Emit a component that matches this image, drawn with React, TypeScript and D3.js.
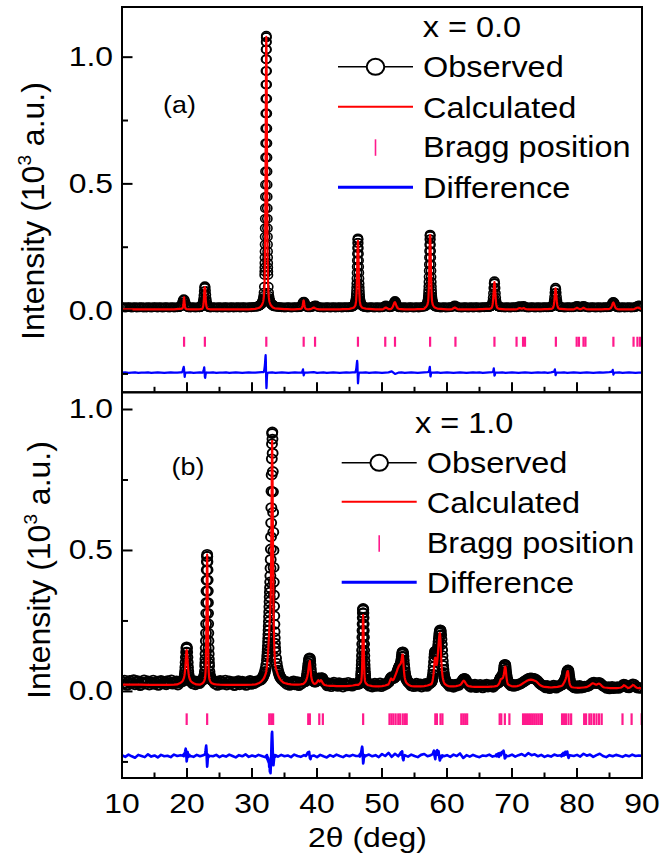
import React from "react";
import * as d3 from "d3";

// Segment = [start 2θ, step, intensities (10^3 a.u.)]
type Seg = [number, number, number[]];

const xMajorTicks = [10, 20, 30, 40, 50, 60, 70, 80, 90];
const xMinorTicks = [15, 25, 35, 45, 55, 65, 75, 85];
const yMajorTicks = [0, 0.5, 1.0];
const yMinorTicks = [-0.25, 0.25, 0.75];
const legendLabels = ["Observed", "Calculated", "Bragg position", "Difference"];
const panelTitles = ["x = 0.0", "x = 1.0"];
const panelTags = ["(a)", "(b)"];

// ---------------- Panel (a): x = 0.0 ----------------
const obsA: Seg[] = [
  [10, 0.25, [0.013,0.014,0.012,0.013,0.014,0.013,0.012,0.013,0.014,0.012,0.013,0.013,0.014,0.012,0.013,0.012,0.014,0.013,0.012,0.013,0.014,0.013,0.012,0.014,0.013,0.012,0.013,0.014,0.013,0.012,0.013,0.014,0.012,0.013,0.013,0.014]],
  [18.8, 0.1, [0.014,0.015,0.016,0.019,0.024,0.031,0.040,0.045,0.042,0.033,0.025,0.019,0.016,0.014,0.013]],
  [20.3, 0.25, [0.013,0.012,0.014,0.013,0.012,0.013,0.014]],
  [21.9, 0.05, [0.013,0.013,0.014,0.014,0.015,0.015,0.016,0.017,0.019,0.021,0.024,0.029,0.036,0.046,0.060,0.076,0.090,0.096,0.091,0.078,0.062,0.047,0.036,0.028,0.023,0.019,0.017,0.015,0.014]],
  [23.4, 0.25, [0.013,0.012,0.014,0.013,0.013,0.012,0.014,0.013,0.012,0.013,0.014,0.013,0.012,0.013,0.014,0.012,0.013,0.013,0.014,0.012,0.013,0.014,0.013,0.012,0.013,0.014,0.013,0.014,0.015,0.015,0.016]],
  [31.0, 0.05, [0.018,0.019,0.019,0.020,0.021,0.022,0.023,0.024,0.025,0.027,0.028,0.031,0.034,0.038,0.042,0.049,0.058,0.071,0.094]],
  [31.95, 0.01, [0.140,0.154,0.170,0.188,0.209,0.233,0.261,0.291,0.325,0.362,0.404,0.449,0.497,0.549,0.604,0.660,0.719,0.778,0.836,0.892,0.945,0.992,1.030,1.060,1.079,1.085,1.079,1.060,1.030,0.992,0.945,0.892,0.836,0.778,0.719,0.660,0.604,0.549,0.497,0.449,0.404,0.362,0.325,0.291,0.261,0.233,0.209,0.188,0.170,0.154,0.140]],
  [32.5, 0.05, [0.094,0.071,0.058,0.049,0.042,0.038,0.034,0.031,0.028,0.027,0.025,0.024,0.023,0.022,0.021,0.020,0.019,0.019,0.018]],
  [33.3, 0.25, [0.017,0.016,0.015,0.014,0.014,0.013,0.013,0.012,0.013,0.014,0.013,0.012,0.013,0.014,0.013,0.013,0.014]],
  [37.4, 0.1, [0.014,0.015,0.017,0.021,0.028,0.034,0.035,0.030,0.023,0.018,0.015,0.014]],
  [38.6, 0.2, [0.013,0.013,0.013,0.014,0.016,0.019,0.020,0.016,0.014,0.013,0.013]],
  [40.8, 0.25, [0.013,0.012,0.013,0.014,0.013,0.012,0.013,0.014,0.012,0.013,0.013,0.014,0.012,0.013,0.014,0.013,0.013,0.014,0.015]],
  [45.4, 0.1, [0.015,0.016,0.018,0.020,0.023]],
  [45.9, 0.02, [0.028,0.030,0.033,0.036,0.039,0.043,0.049,0.056,0.065,0.077,0.091,0.107,0.127,0.149,0.173,0.198,0.224,0.247,0.267,0.280,0.285,0.280,0.267,0.247,0.224,0.198,0.173,0.149,0.127,0.107,0.091,0.077,0.065,0.056,0.049,0.043,0.039,0.036,0.033,0.030,0.028]],
  [46.8, 0.1, [0.023,0.020,0.018,0.016,0.015]],
  [47.3, 0.25, [0.014,0.013,0.012,0.013,0.014,0.013,0.012,0.013,0.014,0.012,0.013,0.013]],
  [50.2, 0.2, [0.014,0.017,0.020,0.017,0.014,0.013,0.014]],
  [51.5, 0.1, [0.015,0.017,0.020,0.026,0.033,0.038,0.034,0.026,0.020,0.016,0.014]],
  [52.6, 0.25, [0.013,0.013,0.012,0.014,0.013,0.012,0.013,0.014,0.013,0.012,0.013,0.014,0.012,0.013,0.014,0.015]],
  [56.6, 0.1, [0.016,0.018,0.020,0.023]],
  [57.0, 0.02, [0.029,0.031,0.034,0.037,0.040,0.045,0.051,0.058,0.068,0.080,0.095,0.113,0.133,0.157,0.182,0.209,0.235,0.260,0.281,0.295,0.300,0.295,0.281,0.260,0.235,0.209,0.182,0.157,0.133,0.113,0.095,0.080,0.068,0.058,0.051,0.045,0.040,0.037,0.034,0.031,0.029]],
  [57.9, 0.1, [0.023,0.020,0.018,0.016]],
  [58.3, 0.25, [0.015,0.014,0.013,0.012,0.013,0.014,0.012,0.013,0.013,0.014]],
  [60.8, 0.2, [0.014,0.017,0.020,0.017,0.014,0.013]],
  [62.0, 0.25, [0.013,0.012,0.013,0.014,0.013,0.012,0.013,0.014,0.012,0.013,0.014,0.013,0.012,0.013,0.014,0.013,0.014,0.014]],
  [66.5, 0.05, [0.015,0.015,0.016,0.016,0.016,0.017,0.018,0.019,0.021,0.024,0.029,0.037,0.051,0.068,0.089,0.108,0.116,0.108,0.089,0.068,0.051,0.037,0.029,0.024,0.021,0.019,0.018,0.017,0.016,0.016,0.016,0.015,0.015]],
  [68.2, 0.25, [0.014,0.013,0.013,0.012,0.014,0.013,0.012,0.013,0.014,0.013,0.013]],
  [70.8, 0.2, [0.014,0.016,0.017,0.015,0.016,0.018,0.015,0.013]],
  [72.3, 0.25, [0.013,0.012,0.013,0.014,0.013,0.012,0.013,0.014,0.012,0.013,0.013,0.014,0.013,0.013,0.014]],
  [75.9, 0.05, [0.014,0.014,0.015,0.015,0.016,0.016,0.017,0.017,0.019,0.021,0.025,0.031,0.041,0.054,0.070,0.084,0.090,0.084,0.070,0.054,0.041,0.031,0.025,0.021,0.019,0.017,0.017,0.016,0.016,0.015,0.015,0.014,0.014]],
  [77.6, 0.25, [0.014,0.013,0.012,0.013,0.014,0.013,0.013]],
  [79.4, 0.2, [0.013,0.014,0.016,0.018,0.016,0.014,0.014,0.016,0.018,0.016,0.014]],
  [81.6, 0.25, [0.013,0.012,0.013,0.014,0.013,0.012,0.013,0.014,0.012,0.013,0.013,0.014,0.013,0.014]],
  [85.0, 0.1, [0.014,0.015,0.017,0.020,0.026,0.032,0.034,0.031,0.025,0.019,0.016,0.014,0.013]],
  [86.3, 0.25, [0.013,0.012,0.013,0.014,0.012,0.013,0.013,0.014,0.012,0.013]],
  [88.8, 0.2, [0.013,0.014,0.016,0.019,0.020,0.016,0.014]],
];

const calcA: Seg[] = [
  [10, 1, [0.005,0.005,0.005,0.005,0.005,0.005,0.005,0.005,0.005]],
  [19.2, 0.05, [0.008,0.009,0.010,0.012,0.016,0.025,0.040,0.052,0.038,0.022,0.014,0.010,0.008,0.007,0.006]],
  [20.5, 0.5, [0.005,0.005,0.005,0.006]],
  [22.3, 0.05, [0.007,0.008,0.010,0.013,0.018,0.028,0.046,0.072,0.089,0.093,0.080,0.058,0.037,0.024,0.016,0.012,0.010,0.008,0.007]],
  [23.5, 0.5, [0.005,0.005,0.005,0.005,0.005,0.005,0.005,0.005,0.005,0.005,0.005,0.005,0.005,0.006,0.007]],
  [31.0, 0.1, [0.010,0.011,0.013,0.015,0.018,0.021,0.026]],
  [31.7, 0.02, [0.034,0.036,0.039,0.042,0.046,0.050,0.055,0.061,0.068,0.076,0.086,0.101,0.120,0.146,0.180,0.225,0.283,0.355,0.441,0.543,0.654,0.773,0.887,0.986,1.055,1.080,1.055,0.986,0.887,0.773,0.654,0.543,0.441,0.355,0.283,0.225,0.180,0.146,0.120,0.101,0.086,0.076,0.068,0.061,0.055,0.050,0.046,0.042,0.039,0.036,0.034]],
  [32.8, 0.1, [0.026,0.021,0.018,0.015,0.013,0.011,0.010]],
  [33.5, 0.5, [0.009,0.008,0.007,0.006,0.006,0.005,0.005,0.006]],
  [37.5, 0.05, [0.007,0.008,0.009,0.010,0.012,0.015,0.020,0.028,0.037,0.040,0.034,0.024,0.016,0.012,0.010,0.008,0.007,0.006,0.006]],
  [38.5, 0.2, [0.005,0.005,0.006,0.007,0.009,0.012,0.009,0.007,0.006,0.005]],
  [40.5, 0.5, [0.005,0.005,0.005,0.005,0.005,0.005,0.005,0.006,0.006,0.007]],
  [45.5, 0.1, [0.010,0.011,0.013,0.016,0.020]],
  [46.0, 0.02, [0.035,0.040,0.048,0.057,0.068,0.082,0.099,0.118,0.140,0.164,0.189,0.214,0.238,0.257,0.270,0.275,0.270,0.257,0.238,0.214,0.189,0.164,0.140,0.118,0.099,0.082,0.068,0.057,0.048,0.040,0.035]],
  [46.7, 0.1, [0.020,0.016,0.013,0.011,0.010]],
  [47.5, 0.5, [0.008,0.007,0.006,0.005,0.005,0.005]],
  [50.2, 0.2, [0.006,0.009,0.012,0.009,0.006,0.006]],
  [51.4, 0.1, [0.007,0.009,0.012,0.017,0.024,0.031,0.033,0.028,0.020,0.014,0.010,0.008,0.007]],
  [53.0, 0.5, [0.006,0.005,0.005,0.005,0.005,0.006,0.006,0.007]],
  [56.6, 0.1, [0.011,0.013,0.015,0.019,0.024]],
  [57.1, 0.02, [0.037,0.043,0.051,0.061,0.074,0.089,0.107,0.128,0.152,0.178,0.205,0.232,0.258,0.279,0.293,0.298,0.293,0.279,0.258,0.232,0.205,0.178,0.152,0.128,0.107,0.089,0.074,0.061,0.051,0.043,0.037]],
  [57.8, 0.1, [0.024,0.019,0.015,0.013,0.011]],
  [58.5, 0.5, [0.008,0.007,0.006,0.005,0.005]],
  [60.8, 0.2, [0.006,0.009,0.012,0.009,0.006,0.005]],
  [62.0, 0.5, [0.005,0.005,0.005,0.005,0.005,0.005,0.006,0.006,0.007]],
  [66.5, 0.05, [0.007,0.007,0.008,0.008,0.009,0.009,0.010,0.011,0.013,0.016,0.022,0.030,0.044,0.063,0.084,0.104,0.112,0.104,0.084,0.063,0.044,0.030,0.022,0.016,0.013,0.011,0.010,0.009,0.009,0.008,0.008,0.007,0.007]],
  [68.5, 0.5, [0.006,0.005,0.005,0.005,0.005]],
  [70.8, 0.2, [0.006,0.008,0.010,0.008,0.008,0.010,0.007,0.006]],
  [72.5, 0.5, [0.005,0.005,0.005,0.005,0.005,0.006,0.006]],
  [75.9, 0.05, [0.007,0.007,0.007,0.007,0.008,0.008,0.009,0.010,0.011,0.014,0.018,0.025,0.035,0.050,0.067,0.082,0.088,0.082,0.067,0.050,0.035,0.025,0.018,0.014,0.011,0.010,0.009,0.008,0.008,0.007,0.007,0.007,0.007]],
  [78.0, 0.5, [0.006,0.005,0.005]],
  [79.4, 0.2, [0.005,0.006,0.008,0.011,0.008,0.006,0.006,0.008,0.011,0.008,0.006]],
  [81.8, 0.5, [0.005,0.005,0.005,0.005,0.005,0.006,0.006]],
  [85.0, 0.1, [0.007,0.008,0.010,0.014,0.021,0.029,0.032,0.027,0.018,0.012,0.009,0.007,0.006]],
  [86.5, 0.5, [0.005,0.005,0.005,0.005,0.005]],
  [88.8, 0.2, [0.006,0.008,0.011,0.012,0.009,0.007,0.006]],
];

const diffA: Seg[] = [
  [10, 0.5, [-0.245,-0.244,-0.246,-0.245,-0.244,-0.246,-0.245,-0.245,-0.244,-0.246,-0.245,-0.244,-0.245,-0.246,-0.245,-0.244,-0.245,-0.245,-0.244]],
  [19.2, 0.05, [-0.244,-0.242,-0.240,-0.236,-0.231,-0.226,-0.222,-0.230,-0.250,-0.262,-0.252,-0.247,-0.245]],
  [20.0, 0.5, [-0.245,-0.244,-0.246,-0.245,-0.244]],
  [22.4, 0.05, [-0.245,-0.243,-0.240,-0.236,-0.230,-0.224,-0.238,-0.262,-0.266,-0.255,-0.248,-0.246,-0.245,-0.244,-0.245]],
  [23.5, 0.5, [-0.245,-0.244,-0.246,-0.245,-0.245,-0.244,-0.246,-0.245,-0.244,-0.245,-0.246,-0.245,-0.244,-0.245,-0.245,-0.244,-0.243]],
  [31.8, 0.03, [-0.243,-0.241,-0.238,-0.234,-0.228,-0.222,-0.214,-0.205,-0.192,-0.182,-0.176,-0.195,-0.240,-0.285,-0.306,-0.298,-0.275,-0.258,-0.250,-0.247,-0.246]],
  [32.6, 0.5, [-0.245,-0.244,-0.246,-0.245,-0.244,-0.245,-0.246,-0.245,-0.244,-0.245,-0.245]],
  [37.7, 0.05, [-0.244,-0.240,-0.236,-0.232,-0.245,-0.256,-0.252,-0.247,-0.245]],
  [38.5, 0.5, [-0.245,-0.244,-0.243,-0.246,-0.245,-0.244,-0.246,-0.245,-0.244,-0.245,-0.246,-0.245,-0.244,-0.245,-0.244]],
  [45.9, 0.04, [-0.244,-0.241,-0.237,-0.232,-0.225,-0.215,-0.205,-0.198,-0.210,-0.250,-0.287,-0.280,-0.262,-0.251,-0.247,-0.245]],
  [47.0, 0.5, [-0.245,-0.244,-0.246,-0.245,-0.244,-0.245,-0.246,-0.245,-0.244,-0.240,-0.250,-0.245,-0.244,-0.246,-0.245,-0.244,-0.245,-0.246,-0.245,-0.244,-0.243]],
  [57.2, 0.04, [-0.242,-0.238,-0.233,-0.226,-0.222,-0.235,-0.258,-0.260,-0.252,-0.247,-0.245]],
  [58.0, 0.5, [-0.245,-0.244,-0.246,-0.245,-0.244,-0.245,-0.246,-0.245,-0.244,-0.245,-0.246,-0.245,-0.244,-0.245,-0.244,-0.246,-0.245,-0.244,-0.243]],
  [67.1, 0.05, [-0.240,-0.234,-0.228,-0.238,-0.257,-0.255,-0.249,-0.246,-0.245]],
  [68.0, 0.5, [-0.245,-0.244,-0.246,-0.245,-0.244,-0.245,-0.246,-0.245,-0.244,-0.245,-0.246,-0.245,-0.244,-0.245,-0.244,-0.246,-0.244]],
  [76.5, 0.05, [-0.241,-0.236,-0.232,-0.240,-0.255,-0.252,-0.248,-0.246,-0.245]],
  [77.5, 0.5, [-0.245,-0.244,-0.246,-0.245,-0.244,-0.245,-0.246,-0.245,-0.244,-0.245,-0.246,-0.245,-0.244,-0.245,-0.244,-0.243]],
  [85.4, 0.05, [-0.241,-0.237,-0.234,-0.243,-0.253,-0.250,-0.247,-0.246,-0.245]],
  [86.0, 0.5, [-0.245,-0.244,-0.246,-0.245,-0.244,-0.245,-0.246,-0.245,-0.245]],
];

const braggA = [19.55, 22.75, 32.2, 37.95, 39.7, 46.3, 50.5, 52.0, 57.4, 61.3, 67.3, 70.7, 71.7, 72.0, 76.75, 79.95, 80.3, 81.0, 81.3, 85.6, 88.7, 89.3, 89.7];

// ---------------- Panel (b): x = 1.0 ----------------
const obsB: Seg[] = [
  [10, 0.2, [0.036,0.025,0.040,0.029,0.022,0.034,0.039,0.027,0.031,0.042,0.024,0.033,0.038,0.028,0.021,0.035,0.030,0.041,0.026,0.032,0.037,0.023,0.034,0.029,0.040,0.025,0.031,0.036,0.022,0.033,0.039,0.027,0.030,0.035,0.024,0.038,0.028,0.032,0.041,0.026,0.034,0.029,0.037,0.023,0.031,0.036,0.034]],
  [19.43, 0.04, [0.037,0.038,0.040,0.043,0.047,0.053,0.061,0.072,0.086,0.103,0.121,0.139,0.153,0.158,0.153,0.139,0.121,0.103,0.086,0.072,0.061,0.053,0.047,0.043,0.040,0.038,0.037]],
  [20.7, 0.2, [0.033,0.027,0.038,0.024,0.031,0.036,0.028,0.034,0.038]],
  [22.4, 0.05, [0.040,0.042,0.043,0.046,0.049,0.053,0.060,0.071]],
  [22.8, 0.02, [0.090,0.101,0.115,0.133,0.154,0.179,0.207,0.240,0.277,0.315,0.356,0.395,0.431,0.460,0.479,0.486,0.479,0.460,0.431,0.395,0.356,0.315,0.277,0.240,0.207,0.179,0.154,0.133,0.115,0.101,0.090]],
  [23.45, 0.05, [0.071,0.060,0.053,0.049,0.046,0.043,0.042,0.040]],
  [23.9, 0.2, [0.038,0.034,0.027,0.036,0.022,0.031,0.039,0.025,0.033,0.028,0.040,0.023,0.032,0.037,0.026,0.030,0.035,0.021,0.034,0.029,0.038,0.024,0.031,0.036,0.027,0.033,0.022,0.035,0.030,0.039,0.025,0.032,0.028,0.036,0.033,0.037,0.039,0.040]],
  [31.4, 0.1, [0.042,0.045,0.048,0.052,0.057,0.063,0.071,0.081,0.094,0.110]],
  [32.35, 0.025, [0.122,0.130,0.140,0.150,0.162,0.175,0.188,0.202,0.217,0.232,0.248,0.265,0.282,0.300,0.318,0.335,0.352,0.368,0.388,0.410,0.437,0.468,0.505,0.548,0.598,0.652,0.710,0.768,0.825,0.878,0.915,0.920,0.895,0.845,0.780,0.708,0.635,0.565,0.500,0.440,0.388,0.342,0.302,0.268,0.238,0.212,0.190,0.171,0.155]],
  [33.6, 0.1, [0.141,0.118,0.100,0.086,0.075,0.066,0.059,0.053,0.049,0.046]],
  [34.6, 0.2, [0.042,0.038,0.033,0.036,0.025,0.031,0.022,0.034,0.028,0.037,0.024,0.030,0.035,0.021,0.032,0.027,0.033,0.034]],
  [38.2, 0.05, [0.035,0.037,0.040,0.044,0.049,0.056,0.064,0.073,0.083,0.092,0.100,0.108,0.115,0.119,0.117,0.108,0.094,0.079,0.066,0.056,0.049]],
  [39.3, 0.1, [0.043,0.039,0.036,0.034,0.033,0.034,0.036,0.040,0.044,0.047,0.048,0.046]],
  [40.5, 0.1, [0.045,0.046,0.049,0.048,0.043,0.038,0.034]],
  [41.2, 0.2, [0.032,0.027,0.020,0.030,0.024,0.017,0.028,0.033,0.021,0.026,0.018,0.031,0.023,0.027,0.016,0.029,0.024,0.020,0.032,0.022,0.026,0.019,0.028,0.023,0.026,0.025]],
  [46.4, 0.05, [0.026,0.027,0.028,0.030,0.032,0.034,0.038,0.044]],
  [46.8, 0.02, [0.056,0.063,0.071,0.082,0.094,0.109,0.127,0.146,0.168,0.192,0.216,0.239,0.261,0.278,0.290,0.294,0.290,0.278,0.261,0.239,0.216,0.192,0.168,0.146,0.127,0.109,0.094,0.082,0.071,0.063,0.056]],
  [47.45, 0.05, [0.044,0.038,0.034,0.032,0.030,0.028,0.027,0.026]],
  [47.9, 0.2, [0.025,0.019,0.027,0.016,0.023,0.029,0.018,0.024,0.021,0.030,0.017,0.025,0.022,0.028,0.026,0.030]],
  [51.0, 0.1, [0.032,0.036,0.040,0.045,0.049,0.052,0.050,0.047,0.046,0.048,0.051,0.055,0.060,0.066,0.073]],
  [52.5, 0.05, [0.078,0.081,0.084,0.087,0.089,0.091,0.093,0.096,0.100,0.106,0.114,0.124,0.133,0.139,0.140,0.135,0.124,0.110,0.095,0.082,0.071,0.062,0.055,0.050,0.046]],
  [53.8, 0.1, [0.041,0.037,0.034,0.031,0.029]],
  [54.3, 0.2, [0.028,0.020,0.026,0.017,0.024,0.029,0.019,0.023,0.027,0.016,0.025,0.021,0.028,0.018,0.024,0.027,0.030]],
  [57.6, 0.05, [0.033,0.036,0.040,0.045,0.052,0.061,0.073,0.088,0.104,0.120,0.132,0.140,0.143,0.140,0.134,0.128,0.126,0.128,0.134,0.143,0.153,0.164,0.176,0.188,0.199,0.208,0.214,0.218,0.217,0.211,0.200,0.185,0.167,0.147,0.127,0.108,0.092,0.078,0.067,0.058,0.051,0.046,0.042,0.039,0.036,0.034,0.032]],
  [60.0, 0.2, [0.030,0.024,0.018,0.026,0.020,0.015,0.025,0.019,0.027,0.022,0.029]],
  [62.2, 0.1, [0.032,0.035,0.039,0.043,0.045,0.046,0.044,0.040,0.035,0.031,0.028]],
  [63.3, 0.2, [0.025,0.019,0.015,0.024,0.018,0.026,0.014,0.021,0.017,0.025,0.020,0.013,0.023,0.018,0.026,0.016,0.022,0.019,0.024,0.015,0.021,0.026,0.028]],
  [67.9, 0.05, [0.030,0.032,0.034,0.036,0.039,0.042,0.045,0.048,0.050,0.051,0.052,0.053,0.054,0.056,0.058,0.062,0.068,0.076,0.085,0.092,0.096,0.095,0.089,0.079,0.068,0.058,0.050,0.044,0.039,0.035,0.032]],
  [69.5, 0.2, [0.030,0.024,0.020,0.026,0.018,0.023,0.021,0.026,0.025]],
  [71.3, 0.2, [0.027,0.030,0.033,0.036,0.039,0.042,0.045,0.047,0.048,0.047,0.046,0.045,0.042,0.038,0.033,0.028,0.024,0.021]],
  [74.8, 0.2, [0.022,0.017,0.013,0.021,0.015,0.010,0.019,0.014,0.022,0.016,0.012,0.020,0.017,0.021,0.023]],
  [77.75, 0.05, [0.024,0.026,0.028,0.030,0.032,0.034,0.036,0.038,0.040,0.042,0.045,0.048,0.052,0.057,0.063,0.069,0.073,0.076,0.075,0.070,0.062,0.053,0.045,0.038,0.033,0.029,0.026,0.024,0.022,0.021,0.020]],
  [79.4, 0.2, [0.018,0.013,0.020,0.011,0.016,0.021,0.012,0.017,0.014,0.019,0.017]],
  [81.6, 0.2, [0.018,0.020,0.023,0.027,0.031,0.033,0.030,0.028,0.030,0.032,0.029,0.024,0.020,0.017]],
  [84.4, 0.2, [0.015,0.011,0.017,0.009,0.014,0.018,0.010,0.015,0.012,0.017,0.011,0.015]],
  [86.8, 0.2, [0.016,0.020,0.026,0.024,0.018,0.014,0.013,0.017,0.022,0.027,0.025,0.019,0.014,0.012,0.013,0.012,0.012]],
];

const calcB: Seg[] = [
  [10, 1, [0.024,0.024,0.024,0.024,0.023,0.023,0.023,0.023,0.024]],
  [18.5, 0.2, [0.025,0.027,0.029,0.032]],
  [19.3, 0.05, [0.036,0.038,0.040,0.043,0.046,0.050,0.056,0.064,0.074,0.088,0.105,0.124,0.140,0.147,0.140,0.124,0.105,0.088,0.074,0.064,0.056,0.050,0.046,0.043,0.040,0.038,0.036]],
  [20.8, 0.2, [0.032,0.029,0.027,0.025]],
  [22.0, 0.2, [0.024,0.026,0.029]],
  [22.5, 0.05, [0.031,0.033,0.035,0.037,0.040,0.045,0.052,0.068,0.101,0.168,0.280,0.414,0.485,0.414,0.280,0.168,0.101,0.068,0.052,0.045,0.040,0.037,0.035,0.033,0.031]],
  [23.9, 0.3, [0.028,0.026,0.025]],
  [25, 1, [0.024,0.023,0.023,0.023,0.023,0.024]],
  [30.5, 0.2, [0.025,0.026,0.028,0.030,0.033,0.037,0.042,0.050,0.062]],
  [32.2, 0.05, [0.072,0.080,0.090,0.102,0.116,0.132,0.150,0.170,0.192,0.216,0.240,0.262,0.285,0.315,0.370,0.470,0.620,0.790,0.889,0.800,0.620,0.450,0.320,0.235,0.180,0.145,0.120,0.102,0.090]],
  [33.8, 0.2, [0.072,0.058,0.048,0.041,0.036,0.032,0.030]],
  [35.5, 0.5, [0.027,0.025,0.024,0.024,0.025]],
  [37.9, 0.1, [0.027,0.029,0.031,0.034,0.038,0.044,0.052,0.064,0.082,0.100,0.108,0.082,0.055,0.042]],
  [39.3, 0.1, [0.035,0.031,0.028,0.027,0.027,0.028,0.030,0.033,0.037,0.040,0.037,0.035,0.036,0.040,0.038,0.033,0.029,0.026,0.024,0.023]],
  [41.5, 0.5, [0.021,0.020,0.020,0.019,0.019,0.019,0.019,0.020,0.021,0.023]],
  [46.3, 0.1, [0.023,0.024,0.026,0.028,0.031]],
  [46.78, 0.04, [0.034,0.038,0.046,0.062,0.089,0.132,0.189,0.245,0.271,0.245,0.189,0.132,0.089,0.062,0.046,0.038,0.034]],
  [47.5, 0.1, [0.030,0.027,0.025,0.023,0.022]],
  [48.5, 0.5, [0.019,0.018,0.018,0.019,0.021,0.025]],
  [51.1, 0.1, [0.030,0.036,0.042,0.046,0.044,0.040,0.040,0.043,0.048,0.054,0.060,0.066,0.072,0.080]],
  [52.5, 0.05, [0.085,0.088,0.090,0.092,0.094,0.095,0.096,0.098,0.100,0.104,0.110,0.118,0.127,0.131,0.130,0.118,0.100,0.082,0.068,0.057,0.049,0.043,0.039,0.036,0.033]],
  [53.8, 0.2, [0.030,0.025,0.022,0.020,0.019]],
  [55.0, 0.5, [0.018,0.018,0.018,0.019,0.021]],
  [57.6, 0.05, [0.026,0.028,0.031,0.035,0.040,0.047,0.056,0.068,0.082,0.097,0.110,0.118,0.120,0.114,0.104,0.096,0.094,0.098,0.107,0.120,0.135,0.151,0.167,0.182,0.195,0.204,0.207,0.200,0.180,0.152,0.124,0.100,0.082,0.068,0.057,0.049,0.043,0.038,0.034,0.031,0.029,0.027,0.026,0.025,0.024,0.023,0.022]],
  [60.2, 0.4, [0.019,0.018,0.018,0.019,0.021]],
  [62.1, 0.1, [0.024,0.027,0.030,0.034,0.037,0.038,0.036,0.032,0.028,0.025,0.022,0.020,0.019]],
  [63.8, 0.5, [0.017,0.016,0.016,0.016,0.016,0.016,0.017,0.018]],
  [67.7, 0.05, [0.020,0.021,0.022,0.023,0.024,0.026,0.028,0.030,0.033,0.036,0.039,0.042,0.044,0.045,0.045,0.045,0.046,0.047,0.049,0.052,0.056,0.061,0.068,0.077,0.085,0.088,0.086,0.077,0.064,0.052,0.043,0.036,0.031,0.027,0.025]],
  [69.6, 0.3, [0.022,0.019,0.018,0.018,0.019,0.021]],
  [71.3, 0.2, [0.023,0.026,0.029,0.032,0.035,0.038,0.040,0.041,0.042,0.041,0.040,0.038,0.036,0.032,0.027,0.023,0.020,0.018]],
  [75.0, 0.5, [0.016,0.015,0.014,0.015,0.016,0.019]],
  [77.75, 0.05, [0.021,0.023,0.025,0.027,0.029,0.031,0.033,0.035,0.038,0.041,0.044,0.048,0.053,0.059,0.065,0.070,0.072,0.072,0.066,0.056,0.045,0.036,0.030,0.025,0.022,0.020,0.018,0.017,0.016,0.015,0.015]],
  [79.5, 0.5, [0.014,0.013,0.013,0.014]],
  [81.4, 0.2, [0.015,0.017,0.019,0.022,0.026,0.029,0.028,0.025,0.024,0.026,0.028,0.025,0.020,0.016,0.014]],
  [84.6, 0.5, [0.013,0.012,0.012,0.012,0.013]],
  [86.8, 0.2, [0.014,0.017,0.022,0.020,0.016,0.013,0.013,0.015,0.019,0.023,0.021,0.016,0.013,0.012,0.012,0.012,0.012]],
];

const diffB: Seg[] = [
  [10, 0.5, [-0.226,-0.232,-0.224,-0.230,-0.235,-0.225,-0.229,-0.233,-0.223,-0.231,-0.227,-0.234,-0.225,-0.230,-0.228,-0.233,-0.224,-0.229,-0.226]],
  [19.4, 0.05, [-0.228,-0.224,-0.230,-0.222,-0.226,-0.218,-0.214,-0.208,-0.203,-0.210,-0.230,-0.248,-0.240,-0.222,-0.215,-0.225,-0.232,-0.226,-0.231,-0.225,-0.230,-0.227,-0.229]],
  [21.0, 0.5, [-0.232,-0.225,-0.230,-0.226]],
  [22.75, 0.05, [-0.224,-0.218,-0.210,-0.200,-0.192,-0.205,-0.245,-0.267,-0.255,-0.236,-0.225,-0.233,-0.227,-0.231,-0.228]],
  [24.0, 0.5, [-0.230,-0.225,-0.233,-0.227,-0.231,-0.224,-0.229,-0.234,-0.226,-0.230,-0.223,-0.232,-0.227,-0.231,-0.225,-0.229,-0.233]],
  [32.2, 0.05, [-0.228,-0.235,-0.226,-0.240,-0.232,-0.245,-0.236,-0.252,-0.242,-0.268,-0.258,-0.285,-0.270,-0.290,-0.262,-0.230,-0.185,-0.150,-0.143,-0.175,-0.215,-0.245,-0.262,-0.250,-0.238,-0.230,-0.226,-0.232,-0.226,-0.230,-0.227]],
  [34.0, 0.5, [-0.231,-0.225,-0.230,-0.227,-0.233,-0.224,-0.229,-0.232,-0.226]],
  [38.3, 0.1, [-0.229,-0.224,-0.220,-0.216,-0.222,-0.214,-0.236,-0.240,-0.230]],
  [39.5, 0.5, [-0.227,-0.233,-0.225,-0.230,-0.234,-0.226,-0.231,-0.224,-0.229,-0.233,-0.226,-0.230,-0.225,-0.229]],
  [46.5, 0.05, [-0.228,-0.224,-0.231,-0.222,-0.227,-0.218,-0.215,-0.208,-0.200,-0.196,-0.205,-0.232,-0.255,-0.250,-0.238,-0.230,-0.226,-0.231,-0.227,-0.230,-0.228]],
  [48.0, 0.5, [-0.224,-0.230,-0.226,-0.233,-0.222,-0.229,-0.218,-0.232,-0.221,-0.230]],
  [52.8, 0.1, [-0.220,-0.216,-0.225,-0.212,-0.238,-0.244,-0.230,-0.226]],
  [54.0, 0.5, [-0.231,-0.224,-0.229,-0.233,-0.225,-0.222,-0.230,-0.226]],
  [57.8, 0.1, [-0.222,-0.215,-0.210,-0.230,-0.240,-0.218,-0.212,-0.208,-0.225,-0.212,-0.232,-0.245,-0.238,-0.228,-0.234,-0.227]],
  [59.5, 0.5, [-0.230,-0.226,-0.232,-0.224,-0.229,-0.220,-0.236,-0.226,-0.231,-0.225,-0.230,-0.233,-0.227,-0.229,-0.224,-0.231]],
  [67.5, 0.1, [-0.228,-0.223,-0.230,-0.225,-0.220,-0.232,-0.224,-0.218,-0.226,-0.221,-0.214,-0.218,-0.210,-0.222,-0.238,-0.235,-0.226,-0.230]],
  [69.5, 0.5, [-0.229,-0.224,-0.231,-0.226,-0.222,-0.229,-0.219,-0.226,-0.223,-0.230,-0.225,-0.232,-0.227,-0.231,-0.224,-0.228]],
  [77.5, 0.1, [-0.226,-0.230,-0.222,-0.228,-0.218,-0.227,-0.222,-0.214,-0.224,-0.219,-0.213,-0.228,-0.236,-0.230,-0.226]],
  [79.5, 0.5, [-0.229,-0.225,-0.231,-0.221,-0.228,-0.224,-0.232,-0.226,-0.221,-0.229,-0.233,-0.226,-0.230,-0.225,-0.228,-0.232,-0.226,-0.230,-0.224,-0.229,-0.227,-0.228]],
];

const braggB = [19.95, 23.1, 32.65, 32.95, 33.25, 38.65, 38.9, 40.35, 40.9, 47.1, 51.15, 51.45, 51.75, 52.1, 52.5, 52.8, 53.2, 53.55, 53.8, 58.2, 58.45, 59.0, 59.3, 62.2, 62.5, 62.8, 63.1, 68.1, 68.35, 68.9, 69.6, 71.7, 72.0, 72.3, 72.6, 72.9, 73.2, 73.5, 73.8, 74.1, 74.4, 74.6, 77.7, 78.0, 78.3, 78.7, 79.1, 81.1, 81.4, 81.9, 82.2, 82.6, 83.0, 83.4, 83.8, 87.0, 88.4, 89.95];

// ---------------- helpers ----------------
function expand(segs: Seg[]): [number, number][] {
  const out: [number, number][] = [];
  for (const [x0, dx, ys] of segs) ys.forEach((v, i) => out.push([+(x0 + i * dx).toFixed(4), v]));
  return out.sort((a, b) => a[0] - b[0]);
}

const FONT = "'Liberation Sans', Arial, Helvetica, sans-serif";
const SX = 1.12;
const PINK = "#ff1a8c";

function T(props: { x: number; y: number; size: number; anchor?: string; children: React.ReactNode }) {
  const { x, y, size, anchor = "start", children } = props;
  return (
    <text transform={`translate(${x},${y}) scale(${SX},1)`} textAnchor={anchor as any} fontSize={size} fontFamily={FONT} fill="#000">
      {children}
    </text>
  );
}

const X0 = 122, X1 = 642;

interface PanelCfg {
  key: string;
  top: number;
  bottom: number;
  domain: [number, number];
  obs: Seg[];
  calc: Seg[];
  diff: Seg[];
  bragg: number[];
  braggRange: [number, number];
  diffWidth: number;
  circle: [number, number, number];
  title: string;
  tag: string;
  titlePos: [number, number];
  tagPos: [number, number];
  legendTextX: number;
  legendBaselines: number[];
  legendSym: [number, number];
  yTitle: [number, number];
  showXLabels: boolean;
}

const panels: PanelCfg[] = [
  {
    key: "a", top: 7, bottom: 392.3, domain: [-0.3225, 1.198],
    obs: obsA, calc: calcA, diff: diffA, bragg: braggA, braggRange: [-0.103, -0.1425], diffWidth: 2.2,
    circle: [4.6, 4.1, 1.6],
    title: panelTitles[0], tag: panelTags[0], titlePos: [422.7, 36.5], tagPos: [163, 113],
    legendTextX: 423, legendBaselines: [77.3, 118.3, 157.3, 198.3], legendSym: [338, 413],
    yTitle: [43.5, 211], showXLabels: false,
  },
  {
    key: "b", top: 392.3, bottom: 778, domain: [-0.307, 1.061],
    obs: obsB, calc: calcB, diff: diffB, bragg: braggB, braggRange: [-0.0777, -0.119], diffWidth: 2.6,
    circle: [5.0, 4.5, 1.9],
    title: panelTitles[1], tag: panelTags[1], titlePos: [415, 433.3], tagPos: [171.5, 475],
    legendTextX: 426.7, legendBaselines: [473.3, 513.3, 553.3, 593.3], legendSym: [341.7, 416.7],
    yTitle: [50, 570], showXLabels: true,
  },
];

function Panel({ p, x }: { p: PanelCfg; x: d3.ScaleLinear<number, number> }) {
  const y = d3.scaleLinear().domain(p.domain).range([p.bottom, p.top]);
  const obs = expand(p.obs);
  const calc = expand(p.calc);
  const diff = expand(p.diff);
  const line = d3.line<[number, number]>().x((d) => x(d[0])).y((d) => y(d[1]));
  const clipId = `clip-${p.key}`;
  const [sx0, sx1] = p.legendSym;
  const sc = (sx0 + sx1) / 2;
  const lb = p.legendBaselines;
  return (
    <g>
      <defs>
        <clipPath id={clipId}>
          <rect x={X0} y={p.top} width={X1 - X0} height={p.bottom - p.top} />
        </clipPath>
      </defs>
      <g clipPath={`url(#${clipId})`}>
        <g fill="none" stroke="#000" strokeWidth={p.circle[2]}>
          {obs.map((d, i) => (
            <ellipse key={i} cx={x(d[0])} cy={y(d[1])} rx={p.circle[0]} ry={p.circle[1]} />
          ))}
        </g>
        <path d={line(calc) || ""} fill="none" stroke="#ff0000" strokeWidth={2.2} strokeLinejoin="round" />
        <g stroke={PINK} strokeWidth={2.2}>
          {p.bragg.map((b, i) => (
            <line key={i} x1={x(b)} x2={x(b)} y1={y(p.braggRange[0])} y2={y(p.braggRange[1])} />
          ))}
        </g>
        <path d={line(diff) || ""} fill="none" stroke="#0000ff" strokeWidth={p.diffWidth} strokeLinejoin="round" />
      </g>
      <rect x={X0} y={p.top} width={X1 - X0} height={p.bottom - p.top} fill="none" stroke="#000" strokeWidth={2} />
      <g stroke="#000" strokeWidth={2}>
        {xMajorTicks.map((t) => (
          <line key={`M${t}`} x1={x(t)} x2={x(t)} y1={p.bottom} y2={p.bottom - 10} />
        ))}
        {xMinorTicks.map((t) => (
          <line key={`m${t}`} x1={x(t)} x2={x(t)} y1={p.bottom} y2={p.bottom - 5.5} />
        ))}
        {yMajorTicks.map((t) => (
          <line key={`YM${t}`} x1={X0} x2={X0 + 10.5} y1={y(t)} y2={y(t)} />
        ))}
        {yMinorTicks.map((t) => (
          <line key={`Ym${t}`} x1={X0} x2={X0 + 6} y1={y(t)} y2={y(t)} />
        ))}
      </g>
      {yMajorTicks.map((t) => (
        <T key={`yl${t}`} x={113} y={y(t) + 9} size={28.5} anchor="end">
          {d3.format(".1f")(t)}
        </T>
      ))}
      {p.showXLabels &&
        xMajorTicks.map((t) => (
          <T key={`xl${t}`} x={x(t)} y={813.3} size={28.5} anchor="middle">
            {String(t)}
          </T>
        ))}
      <text transform={`translate(${p.yTitle[0]},${p.yTitle[1]}) rotate(-90)`} textAnchor="middle" fontSize={32} fontFamily={FONT} fill="#000">
        Intensity (10<tspan fontSize={19} dy={-13}>3</tspan>
        <tspan dy={13}> a.u.)</tspan>
      </text>
      <T x={p.tagPos[0]} y={p.tagPos[1]} size={24}>{p.tag}</T>
      <T x={p.titlePos[0]} y={p.titlePos[1]} size={29}>{p.title}</T>
      <line x1={sx0} x2={sx1} y1={lb[0] - 10.5} y2={lb[0] - 10.5} stroke="#000" strokeWidth={1.6} />
      <ellipse cx={sc} cy={lb[0] - 10.5} rx={8.8} ry={8} fill="#fff" stroke="#000" strokeWidth={2} />
      <line x1={sx0} x2={sx1} y1={lb[1] - 11.5} y2={lb[1] - 11.5} stroke="#ff0000" strokeWidth={2} />
      <line x1={sc} x2={sc} y1={lb[2] - 18} y2={lb[2] - 1.5} stroke={PINK} strokeWidth={1.6} />
      <line x1={sx0} x2={sx1} y1={lb[3] - 11} y2={lb[3] - 11} stroke="#0000ff" strokeWidth={3} />
      {legendLabels.map((l, i) => (
        <T key={l} x={p.legendTextX} y={lb[i]} size={29}>{l}</T>
      ))}
    </g>
  );
}

export default function App() {
  const x = d3.scaleLinear().domain([10, 90]).range([X0, X1]);
  return (
    <svg width={661} height={857} viewBox="0 0 661 857" style={{ position: "absolute", left: 0, top: 0, background: "#fff" }}>
      <rect x={0} y={0} width={661} height={857} fill="#fff" />
      {panels.map((p) => (
        <Panel key={p.key} p={p} x={x} />
      ))}
      <T x={367.5} y={846.7} size={28.5} anchor="middle">2θ (deg)</T>
    </svg>
  );
}
